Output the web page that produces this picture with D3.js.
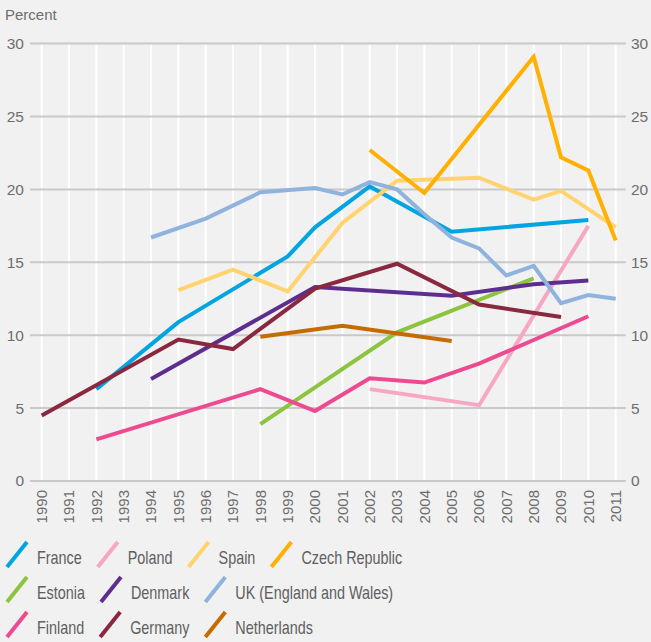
<!DOCTYPE html>
<html>
<head>
<meta charset="utf-8">
<script src="https://cdn.jsdelivr.net/npm/d3@7"></script>
<style>
  html, body { margin: 0; padding: 0; background: #f1f1f1; }
  svg { display: block; }
  .tick-label { font-family: "Liberation Sans", Arial, sans-serif; fill: #6d6d6d; }
  .legend-label { font-family: "Liberation Sans", Arial, sans-serif; fill: #5f5f5f; }
</style>
</head>
<body>
<svg id="chart" width="651" height="642"></svg>
<script>
// Years on the horizontal axis
const years = d3.range(1990, 2012);
const yTicks = [0, 5, 10, 15, 20, 25, 30];

// Series: [year, percent]
const france = [[1992, 6.3], [1995, 10.9], [1999, 15.4], [2000, 17.4], [2002, 20.2], [2005, 17.1], [2010, 17.9]];
const poland = [[2002, 6.3], [2006, 5.2], [2010, 17.5]];
const spain = [[1995, 13.1], [1997, 14.5], [1999, 13.0], [2001, 17.7], [2003, 20.6], [2006, 20.8], [2008, 19.3], [2009, 19.9], [2011, 17.4]];
const czech = [[2002, 22.7], [2004, 19.75], [2008, 29.1], [2009, 22.2], [2010, 21.3], [2011, 16.5]];
const estonia = [[1998, 3.9], [2003, 10.2], [2008, 13.9]];
const denmark = [[1994, 7.0], [2000, 13.3], [2005, 12.7], [2008, 13.5], [2010, 13.75]];
const uk = [[1994, 16.7], [1996, 18.0], [1998, 19.8], [2000, 20.1], [2001, 19.65], [2002, 20.5], [2003, 20.0], [2004, 18.3], [2005, 16.7], [2006, 15.95], [2007, 14.1], [2008, 14.75], [2009, 12.2], [2010, 12.75], [2011, 12.5]];
const finland = [[1992, 2.85], [1998, 6.3], [2000, 4.8], [2002, 7.05], [2004, 6.75], [2006, 8.05], [2010, 11.3]];
const germany = [[1990, 4.5], [1995, 9.7], [1997, 9.05], [2000, 13.2], [2003, 14.9], [2006, 12.1], [2009, 11.25]];
const netherlands = [[1998, 9.9], [2001, 10.65], [2005, 9.6]];

const seriesNames = ["France", "Poland", "Spain", "Czech Republic", "Estonia", "Denmark", "UK (England and Wales)", "Finland", "Germany", "Netherlands"];
const seriesData = [france, poland, spain, czech, estonia, denmark, uk, finland, germany, netherlands];
const seriesColors = ["#00a5e1", "#f7a6c3", "#ffd46f", "#ffb000", "#8cc43d", "#5d2e8f", "#8fb3dc", "#ee4a8f", "#8a2840", "#c46c00"];

// Legend rows (indices into the series arrays)
const legendRows = [[0, 1, 2, 3], [4, 5, 6], [7, 8, 9]];

const svg = d3.select("#chart");

const x = d3.scaleLinear().domain([1990, 2011]).range([41.7, 615.7]);
const y = d3.scaleLinear().domain([0, 30]).range([481, 43.6]);

// Vertical white year gridlines
svg.append("g")
  .selectAll("line")
  .data(years)
  .join("line")
  .attr("x1", d => x(d)).attr("x2", d => x(d))
  .attr("y1", y(30) + 1).attr("y2", y(0))
  .attr("stroke", "#ffffff")
  .attr("stroke-width", 2);

// Horizontal value gridlines
svg.append("g")
  .selectAll("line")
  .data(yTicks)
  .join("line")
  .attr("x1", 30).attr("x2", 625.7)
  .attr("y1", d => y(d)).attr("y2", d => y(d))
  .attr("stroke", "#c9c9c9")
  .attr("stroke-width", 2);

// Left value labels
svg.append("g")
  .selectAll("text")
  .data(yTicks)
  .join("text")
  .attr("class", "tick-label")
  .attr("x", 24).attr("y", d => y(d))
  .attr("dy", "0.35em")
  .attr("text-anchor", "end")
  .attr("font-size", 15.5)
  .text(d => d);

// Right value labels
svg.append("g")
  .selectAll("text")
  .data(yTicks)
  .join("text")
  .attr("class", "tick-label")
  .attr("x", 631).attr("y", d => y(d))
  .attr("dy", "0.35em")
  .attr("text-anchor", "start")
  .attr("font-size", 15.5)
  .text(d => d);

// Axis title
svg.append("text")
  .attr("class", "tick-label")
  .attr("x", 5).attr("y", 19.5)
  .attr("font-size", 15)
  .text("Percent");

// Rotated year labels
svg.append("g")
  .selectAll("text")
  .data(years)
  .join("text")
  .attr("class", "tick-label")
  .attr("transform", d => `translate(${x(d)},490) rotate(-90)`)
  .attr("dy", "0.35em")
  .attr("text-anchor", "end")
  .attr("font-size", 15)
  .text(d => d);

// Series lines
const line = d3.line().x(d => x(d[0])).y(d => y(d[1]));
svg.append("g")
  .selectAll("path")
  .data(seriesData)
  .join("path")
  .attr("d", line)
  .attr("fill", "none")
  .attr("stroke", (d, i) => seriesColors[i])
  .attr("stroke-width", 4)
  .attr("stroke-linejoin", "miter");

// Legend: flowing rows of slanted swatches and condensed labels
const legendBaselines = [564, 599, 634];
const condense = 0.8;
const legend = svg.append("g");
legendRows.forEach((row, r) => {
  let cx = 7;
  const base = legendBaselines[r];
  row.forEach(i => {
    legend.append("line")
      .attr("x1", cx).attr("y1", base + 3)
      .attr("x2", cx + 20).attr("y2", base - 22)
      .attr("stroke", seriesColors[i])
      .attr("stroke-width", 4);
    const t = legend.append("text")
      .attr("class", "legend-label")
      .attr("transform", `translate(${cx + 30},${base}) scale(${condense},1)`)
      .attr("font-size", 18)
      .text(seriesNames[i]);
    cx += 30 + t.node().getComputedTextLength() * condense + 16;
  });
});
</script>
</body>
</html>
